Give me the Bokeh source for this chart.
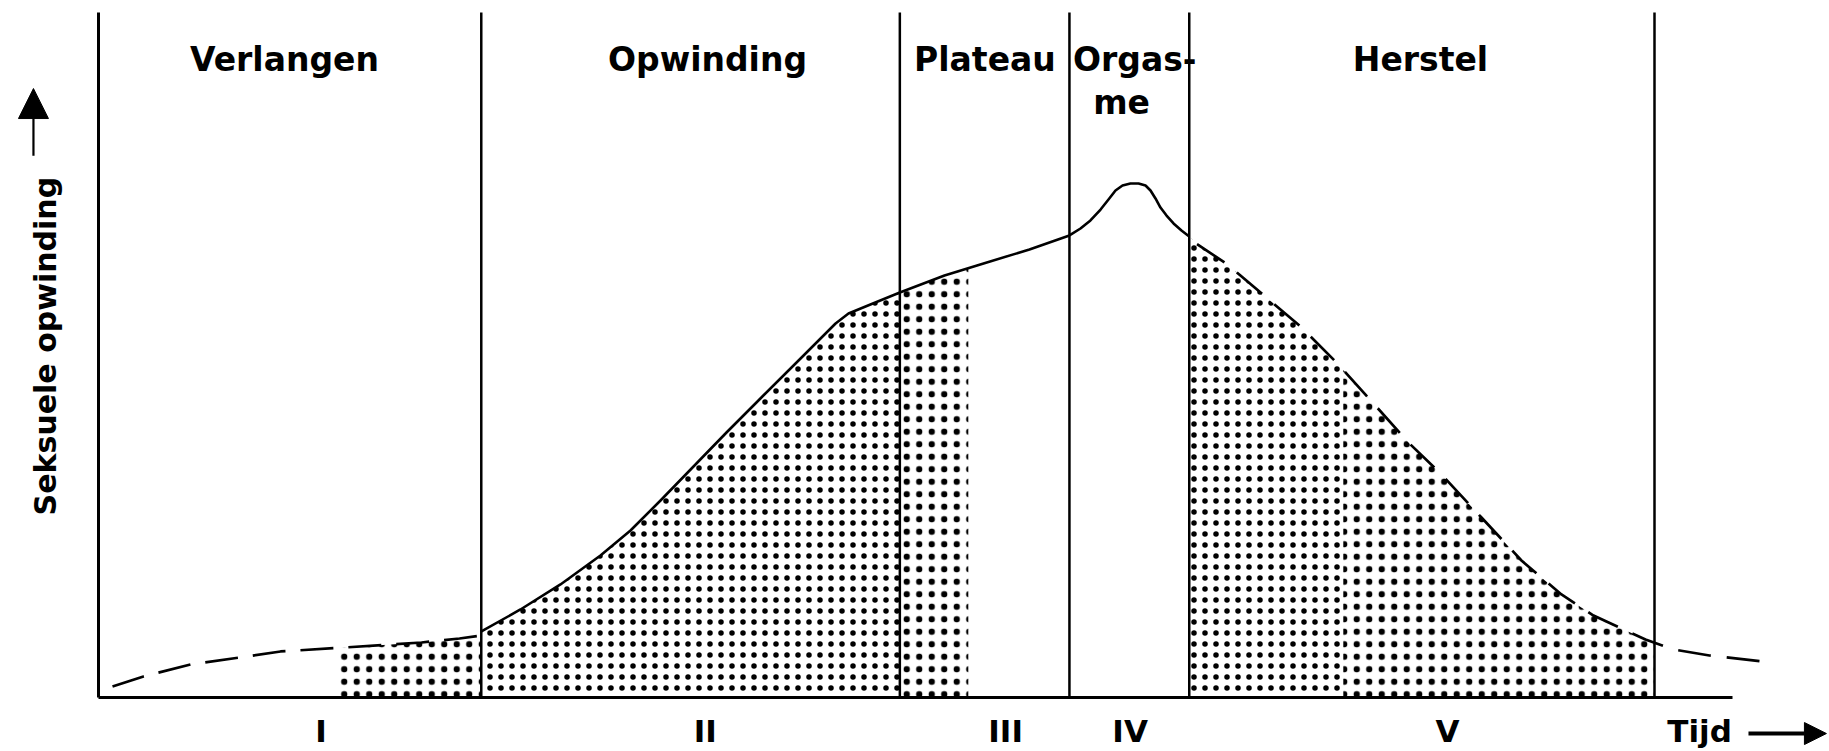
import numpy as np
from bokeh.plotting import figure
from bokeh.models import Range1d, FixedTicker, Arrow, NormalHead
from bokeh.core.properties import value
from bokeh.embed import file_html
from bokeh.resources import INLINE

# ---------------- data (time: 0..100 = start of phase I .. end of phase V; arousal: 0..100) -------------
phase_bounds = [24.6, 51.5, 62.4, 70.1, 100.0]
phase_names = ["Verlangen", "Opwinding", "Plateau", "Orgas-", "Herstel"]
phase_name_x = [11.95, 39.14, 56.97, 66.6, 84.96]
second_line_text = ["me"]
second_line_x = [65.75]
roman_labels = ["I", "II", "III", "IV", "V", "Tijd"]
roman_x = [14.3, 39.0, 58.3, 66.3, 86.7, 102.9]

# desire phase (dashed)
desire_t = [0.90, 2.89, 5.91, 9.06, 11.70, 15.81, 20.76, 23.20, 24.6]
desire_a = [1.61, 3.07, 4.82, 5.84, 6.72, 7.30, 8.03, 8.61, 9.05]

# excitement / plateau / orgasm (solid)
arousal_t = [24.61, 27.12, 29.69, 32.26, 34.19, 36.12, 40.36, 42.54, 45.12, 47.37, 48.20,
             49.61, 51.5, 54.37, 56.88, 59.83, 62.40, 63.11, 63.75, 64.40, 64.91, 65.36,
             65.81, 66.32, 66.84, 67.29, 67.61, 67.93, 68.25, 68.64, 69.09, 69.60, 70.1]
arousal_a = [9.64, 12.85, 16.50, 20.73, 24.38, 28.76, 38.69, 43.65, 49.49, 54.60, 56.06,
             57.37, 59.12, 61.61, 63.36, 65.40, 67.45, 68.47, 69.64, 71.24, 72.70, 74.01,
             74.74, 75.04, 75.04, 74.74, 74.01, 72.85, 71.53, 70.36, 69.20, 68.18, 67.30]

# resolution (dashed)
recovery_t = [70.6, 72.37, 73.39, 77.25, 79.56, 81.88, 84.25, 86.31, 88.88, 91.45, 94.02,
              96.08, 99.42, 101.22, 103.53, 106.94]
recovery_a = [66.2, 63.50, 61.61, 54.16, 48.91, 43.07, 37.08, 32.55, 26.28, 20.0, 15.04,
              11.97, 8.47, 7.01, 6.13, 5.26]

# stippled regions: (curve, start, end, dot spacing, dot weight)
stipple = [("desire", 15.5, 24.6, 12.5, 0.1),
           ("arousal", 24.6, 51.5, 11, 0.9), ("arousal", 51.5, 55.9, 12.5, 0.1),
           ("recovery", 70.1, 80.0, 11, 0.9), ("recovery", 80.0, 100.0, 12.5, 0.1)]

curves = {"desire": (desire_t, desire_a), "arousal": (arousal_t, arousal_a),
          "recovery": ([70.1] + recovery_t, [67.3] + recovery_a)}

FONT = value("DejaVu Sans")

p = figure(width=1829, height=751, output_backend="svg", toolbar_location=None,
           x_range=Range1d(-6.298, 111.247), y_range=Range1d(-7.883, 101.752),
           min_border=0, background_fill_color="white", border_fill_color="white")
p.outline_line_color = None
p.grid.visible = False

# axes drawn at the origin inside the frame
p.xaxis.fixed_location = 0
p.xaxis.bounds = (0, 105)
p.xaxis.ticker = FixedTicker(ticks=roman_x)
p.xaxis.major_label_overrides = {x: lab for x, lab in zip(roman_x, roman_labels)}
p.xaxis.major_tick_line_color = None
p.xaxis.minor_tick_line_color = None
p.xaxis.major_tick_out = 0
p.xaxis.major_tick_in = 0
p.xaxis.major_label_standoff = 15
p.xaxis.major_label_text_font = "DejaVu Sans"
p.xaxis.major_label_text_font_style = "bold"
p.xaxis.major_label_text_font_size = "31px"
p.xaxis.major_label_text_color = "black"
p.xaxis.axis_line_width = 3
p.xaxis.axis_line_color = "black"

p.yaxis.fixed_location = 0
p.yaxis.bounds = (0, 100)
p.yaxis.ticker = FixedTicker(ticks=[])
p.yaxis.major_tick_line_color = None
p.yaxis.minor_tick_line_color = None
p.yaxis.major_label_text_font_size = "0px"
p.yaxis.axis_line_width = 3
p.yaxis.axis_line_color = "black"

# stipple
for name, lo, hi, s, w in stipple:
    xs, ys = curves[name]
    xs = np.asarray(xs, float)
    ys = np.asarray(ys, float)
    m = (xs > lo) & (xs < hi)
    xg = np.concatenate([[lo], xs[m], [hi]])
    yg = np.interp(xg, xs, ys)
    p.varea(x=xg, y1=np.zeros_like(xg), y2=yg, fill_alpha=0, hatch_pattern="dot",
            hatch_color="black", hatch_scale=s, hatch_weight=w)

# phase boundaries
p.segment(x0=phase_bounds, y0=[0] * len(phase_bounds), x1=phase_bounds,
          y1=[100] * len(phase_bounds), line_color="black", line_width=2.5)

# curves
p.line(desire_t, desire_a, line_color="black", line_width=2.7, line_dash="33 15")
p.line(arousal_t, arousal_a, line_color="black", line_width=2.6, line_join="round")
p.line(recovery_t, recovery_a, line_color="black", line_width=2.7, line_dash="33 16")

# phase names
p.text(x=phase_name_x, y=[93.14] * len(phase_names), text=phase_names, text_font=FONT,
       text_font_style="bold", text_font_size="33px", text_align="center",
       text_baseline="alphabetic", text_color="black")
p.text(x=second_line_x, y=[86.86], text=second_line_text, text_font=FONT,
       text_font_style="bold", text_font_size="33px", text_align="center",
       text_baseline="alphabetic", text_color="black")

# y label
p.text(x=[-3.41], y=[51.3], text=["Seksuele opwinding"], angle=np.pi / 2, text_font=FONT,
       text_font_style="bold", text_font_size="30px", text_align="center",
       text_baseline="alphabetic", text_color="black")

# arrows
p.add_layout(Arrow(end=NormalHead(size=30, fill_color="black", line_color="black"),
                   x_start=-4.18, y_start=79.1, x_end=-4.18, y_end=88.9,
                   line_color="black", line_width=2.2))
p.add_layout(Arrow(end=NormalHead(size=22, fill_color="black", line_color="black"),
                   x_start=106.04, y_start=-5.26, x_end=111.05, y_end=-5.26,
                   line_color="black", line_width=4))

open("out.html", "w").write(file_html(p, INLINE))
